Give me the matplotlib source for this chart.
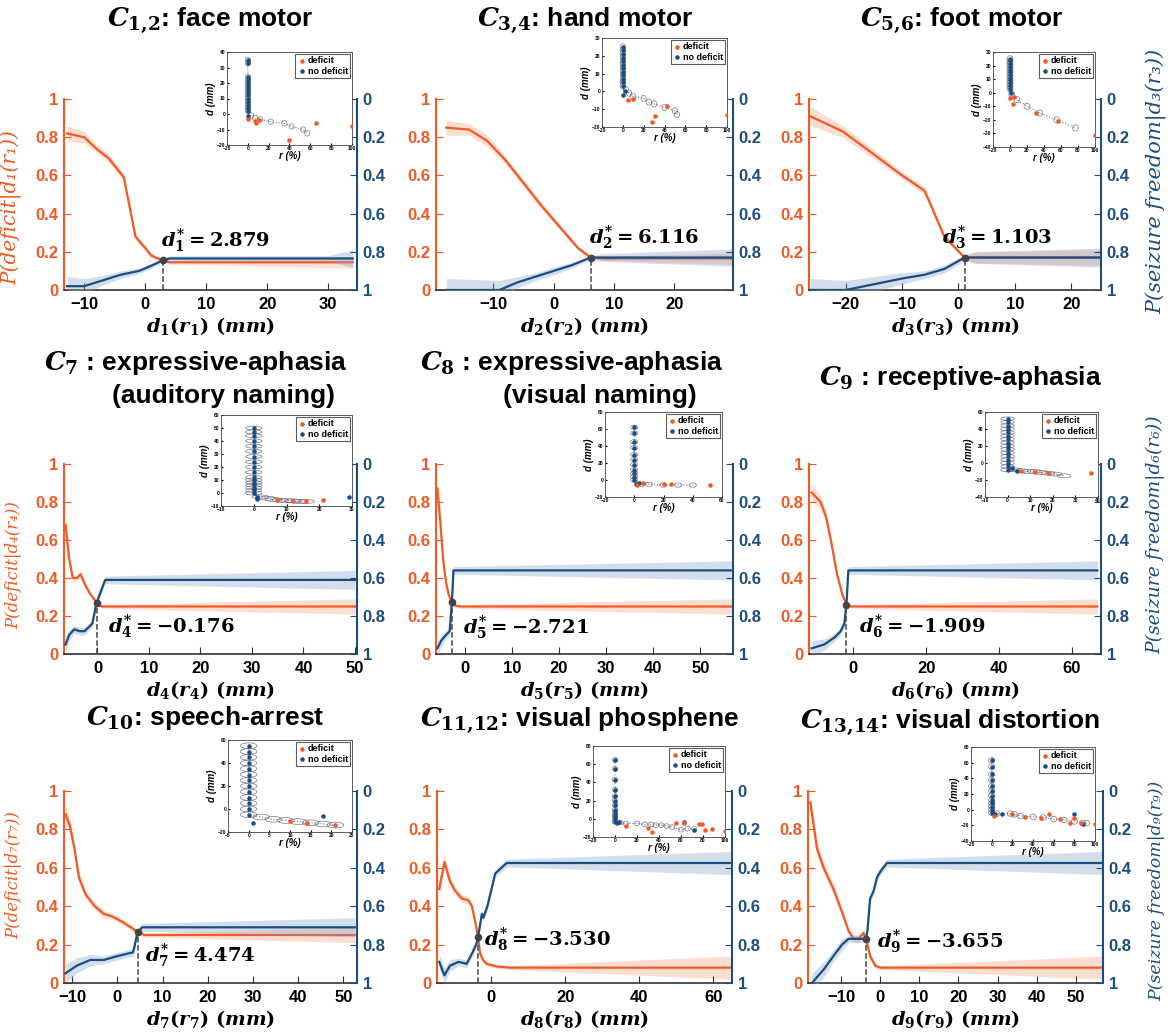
import matplotlib.pyplot as plt
import numpy as np
from matplotlib.patches import Ellipse

plt.rcParams['font.family'] = ['Liberation Sans', 'DejaVu Sans']
plt.rcParams['font.weight'] = 'bold'
plt.rcParams['mathtext.fontset'] = 'custom'
plt.rcParams['mathtext.it'] = 'DejaVu Serif:italic:bold'
plt.rcParams['mathtext.rm'] = 'DejaVu Serif:bold'
plt.rcParams['mathtext.bf'] = 'DejaVu Serif:bold'

ORANGE = '#F15A24'
BLUE = '#1B4D7E'
BAND_O = '#F7A07C'
BAND_B = '#7FA3C6'

# ---- main curves: P(deficit) (left axis) and P(seizure freedom) (right axis, inverted)
x1 = [-12.8, -10, -8, -6, -3.5, -1.6, 0, 1, 2.879, 4, 34]
o1 = [0.82, 0.80, 0.74, 0.69, 0.59, 0.28, 0.22, 0.18, 0.155, 0.145, 0.145]
oe1 = [0.04, 0.03, 0.02, 0.02, 0.02, 0.02, 0.015, 0.012, 0.01, 0.01, 0.03]
bx1 = [-12.8, -10, -7, -4, -1, 0.5, 2.879, 4, 30, 34]
b1 = [0.98, 0.98, 0.95, 0.92, 0.90, 0.88, 0.845, 0.835, 0.835, 0.835]
be1 = [0.05, 0.04, 0.025, 0.02, 0.015, 0.015, 0.01, 0.015, 0.015, 0.045]

x2 = [-17.8, -14, -11, -8, -5, -2, 1, 4, 6.116, 8, 29.7]
o2 = [0.85, 0.84, 0.78, 0.68, 0.56, 0.44, 0.33, 0.22, 0.17, 0.165, 0.165]
oe2 = [0.04, 0.03, 0.03, 0.02, 0.02, 0.02, 0.015, 0.012, 0.01, 0.01, 0.03]
bx2 = [-17.8, -9, -6, -3, 0, 3, 6.116, 8, 29.7]
b2 = [1.0, 1.0, 0.96, 0.93, 0.90, 0.87, 0.83, 0.83, 0.83]
be2 = [0.06, 0.05, 0.03, 0.02, 0.02, 0.015, 0.01, 0.02, 0.045]

x3 = [-26.3, -20.5, -15, -10, -6, -2.5, 1.103, 3, 25.3]
o3 = [0.91, 0.83, 0.71, 0.60, 0.52, 0.28, 0.17, 0.17, 0.17]
oe3 = [0.05, 0.03, 0.025, 0.02, 0.02, 0.015, 0.01, 0.03, 0.04]
bx3 = [-26.3, -20, -15, -10, -6, -2.5, 1.103, 3, 25.3]
b3 = [1.0, 1.0, 0.97, 0.94, 0.92, 0.89, 0.83, 0.83, 0.83]
be3 = [0.06, 0.05, 0.04, 0.03, 0.02, 0.02, 0.015, 0.03, 0.05]

x4 = [-6.2, -5.5, -4.8, -4, -3.3, -2.5, -1.5, -0.176, 0.8, 50]
o4 = [0.68, 0.50, 0.40, 0.40, 0.42, 0.37, 0.32, 0.27, 0.25, 0.25]
oe4 = [0.05, 0.03, 0.02, 0.015, 0.015, 0.015, 0.01, 0.01, 0.01, 0.04]
bx4 = [-6.2, -5.5, -4.5, -3.5, -2.5, -1.0, -0.176, 1.5, 50]
b4 = [0.95, 0.90, 0.87, 0.88, 0.88, 0.84, 0.73, 0.61, 0.61]
be4 = [0.04, 0.03, 0.02, 0.02, 0.02, 0.02, 0.02, 0.02, 0.05]

x5 = [-5.8, -5.2, -4.6, -4.0, -3.4, -2.721, -2.0, -1.0, 56.5]
o5 = [0.87, 0.70, 0.50, 0.38, 0.31, 0.275, 0.255, 0.25, 0.25]
oe5 = [0.05, 0.04, 0.03, 0.02, 0.015, 0.01, 0.01, 0.01, 0.04]
bx5 = [-5.8, -5.0, -4.0, -3.2, -2.721, -2.4, 56.5]
b5 = [0.97, 0.93, 0.90, 0.88, 0.725, 0.56, 0.56]
be5 = [0.04, 0.03, 0.02, 0.02, 0.02, 0.02, 0.05]

x6 = [-11.5, -9, -7.5, -6, -4.5, -3, -1.909, -0.5, 67]
o6 = [0.85, 0.80, 0.72, 0.58, 0.42, 0.31, 0.26, 0.25, 0.25]
oe6 = [0.05, 0.03, 0.03, 0.02, 0.02, 0.015, 0.01, 0.01, 0.04]
bx6 = [-11.5, -8, -5, -3.5, -2.5, -1.909, -1.4, 67]
b6 = [0.97, 0.95, 0.91, 0.88, 0.84, 0.74, 0.56, 0.56]
be6 = [0.04, 0.03, 0.02, 0.02, 0.02, 0.02, 0.02, 0.05]

x7 = [-11.5, -10.5, -9.5, -8.5, -7, -5, -3, -1, 1, 3, 4.474, 6, 52.5]
o7 = [0.88, 0.82, 0.70, 0.55, 0.46, 0.40, 0.36, 0.345, 0.32, 0.29, 0.265, 0.25, 0.25]
oe7 = [0.05, 0.04, 0.03, 0.03, 0.02, 0.02, 0.02, 0.015, 0.015, 0.015, 0.01, 0.01, 0.04]
bx7 = [-11.5, -9, -6, -3, 0, 3.5, 4.474, 5.5, 52.5]
b7 = [0.95, 0.91, 0.88, 0.88, 0.86, 0.84, 0.735, 0.71, 0.71]
be7 = [0.05, 0.04, 0.03, 0.02, 0.02, 0.02, 0.02, 0.02, 0.05]

x8 = [-14.0, -12.6, -11.1, -9.7, -7.9, -6.1, -5.2, -4.3, -3.53, -3.0, -2.2, -1.2, 1.5, 5.1, 64.5]
o8 = [0.49, 0.63, 0.53, 0.48, 0.44, 0.43, 0.40, 0.32, 0.24, 0.155, 0.12, 0.10, 0.086, 0.08, 0.08]
oe8 = [0.04, 0.04, 0.03, 0.02, 0.02, 0.02, 0.02, 0.02, 0.015, 0.015, 0.015, 0.01, 0.01, 0.01, 0.06]
bx8 = [-14.0, -12.6, -11.1, -8.8, -6.6, -5.0, -4.05, -3.53, -3.0, -2.5, -2.1, -1.0, 1.1, 4.2, 64.5]
b8 = [0.89, 0.96, 0.91, 0.89, 0.90, 0.84, 0.80, 0.76, 0.70, 0.64, 0.66, 0.60, 0.43, 0.375, 0.375]
be8 = [0.04, 0.04, 0.03, 0.02, 0.02, 0.02, 0.02, 0.02, 0.02, 0.02, 0.02, 0.02, 0.02, 0.02, 0.06]

x9 = [-17.9, -16.2, -14.5, -12.0, -9.8, -8.1, -6.8, -5.6, -4.3, -3.655, -2.6, -1.3, 0, 57]
o9 = [0.94, 0.70, 0.60, 0.49, 0.37, 0.27, 0.23, 0.23, 0.26, 0.23, 0.14, 0.09, 0.08, 0.08]
oe9 = [0.05, 0.04, 0.03, 0.03, 0.02, 0.02, 0.02, 0.02, 0.02, 0.02, 0.015, 0.015, 0.01, 0.06]
bx9 = [-17.5, -14.5, -12.0, -9.8, -8.1, -6.8, -4.3, -3.655, -3.3, -2.6, -1.7, -0.85, 0, 1.7, 57]
b9 = [1.0, 0.93, 0.86, 0.80, 0.77, 0.77, 0.77, 0.77, 0.73, 0.56, 0.52, 0.45, 0.42, 0.375, 0.375]
be9 = [0.05, 0.04, 0.03, 0.03, 0.02, 0.02, 0.02, 0.02, 0.02, 0.02, 0.02, 0.02, 0.02, 0.02, 0.06]

dstar = [2.879, 6.116, 1.103, -0.176, -2.721, -1.909, 4.474, -3.530, -3.655]
dstar_txt = ['2.879', '6.116', '1.103', '-0.176', '-2.721', '-1.909', '4.474', '-3.530', '-3.655']
xticks = [[-10, 0, 10, 20, 30], [-10, 0, 10, 20], [-20, -10, 0, 10, 20],
          [0, 10, 20, 30, 40, 50], [0, 10, 20, 30, 40, 50], [0, 20, 40, 60],
          [-10, 0, 10, 20, 30, 40, 50], [0, 20, 40, 60], [-10, 0, 10, 20, 30, 40, 50]]

# ---- inset scatter data (r in %, d in mm)
col_d1 = [35, 33, 24, 22, 20, 18, 16, 14, 12, 10, 8, 6, 4, 2]
tail_r1 = [3, 7, 12, 22, 35, 42, 53, 57]
tail_d1 = [-1, -2.5, -3.5, -5, -6, -8, -10, -12.5]
def_r1 = [0, 7, 8, 11, 40, 65, 100]
def_d1 = [-3, -4.5, -6, -4, -17, -6, -8]
nd_r1 = [0]
nd_d1 = [-1.5]

col_d2 = [25, 23, 21, 19, 17, 15, 13, 11, 9, 7, 5, 3]
tail_r2 = [3, 6, 10, 20, 25, 30, 40, 50, 52]
tail_d2 = [1, -1, -3, -4, -6, -7, -9, -11, -13]
def_r2 = [5, 10, 28, 31, 42, 100]
def_d2 = [-5, -4, -17, -14, -8, -13]
nd_r2 = [0, 2]
nd_d2 = [-2, 0]

col_d3 = [25, 23, 21, 19, 17, 15, 13, 11, 9, 7, 5, 3]
tail_r3 = [2, 8, 20, 35, 55, 77]
tail_d3 = [-1, -5, -10, -15, -20, -26]
def_r3 = [0, 4, 5, 30, 56, 100]
def_d3 = [-4, -8.5, -3, -15, -21, -31]
nd_r3 = [1]
nd_d3 = [0]

col_d4 = [50, 47, 44, 40, 36, 32, 28, 24, 20, 16, 12, 10, 8, 6, 4, 2, 0]
tail_r4 = [2, 4, 6, 8, 10, 12, 14, 16]
tail_d4 = [-3, -4, -5, -5.5, -6, -6, -6.5, -6.5]
def_r4 = [7, 12, 16, 21]
def_d4 = [-5.5, -6.5, -6.5, -5.5]
nd_r4 = [1, 1, 29]
nd_d4 = [-3, -5, -3]

col_d5 = [62, 55, 45, 38, 30, 24, 18, 12, 8, 4, 0]
tail_r5 = [5, 10, 20, 30, 40]
tail_d5 = [-5, -5, -6, -6, -6]
def_r5 = [2, 6, 20, 25, 52]
def_d5 = [-6, -4, -5, -5, -6]
nd_r5 = [1, 3]
nd_d5 = [-5, -4]

col_d6 = [52, 48, 44, 40, 36, 32, 28, 24, 20, 16, 12, 8, 4, 0, -4, -8]
tail_r6 = [3, 6, 9, 12, 15, 18, 21, 25]
tail_d6 = [-8, -9, -10, -10, -11, -12, -13, -15]
def_r6 = [6, 12, 18, 37]
def_d6 = [-9, -11, -12, -12]
nd_r6 = [2, 4]
nd_d6 = [-6, -9]

col_d7 = [55, 50, 45, 40, 35, 30, 25, 20, 15, 10, 5, 0, -5]
tail_r7 = [3, 6, 9, 12, 15, 18, 21]
tail_d7 = [-7, -9, -10, -11, -12, -13, -14]
def_r7 = [10, 14, 21]
def_d7 = [-10, -12, -14]
nd_r7 = [1, 18]
nd_d7 = [-12, -6]

col_d8 = [65, 55, 43, 32, 25, 20, 15, 10, 6, 3, 0, -3]
tail_r8 = [5, 10, 20, 27, 33, 37, 42, 47, 52, 60, 66, 72]
tail_d8 = [-4, -5, -5, -6, -6, -7, -7, -8, -9, -12, -11, -11]
def_r8 = [10, 30, 34, 55, 63, 76, 79, 82, 88, 100]
def_d8 = [-8, -10, -15, -5, -5, -6, -6, -12, -11, -13]
nd_r8 = [2, 4, 63, 72]
nd_d8 = [-5, -4, -4, -12]

col_d9 = [63, 55, 45, 38, 30, 24, 18, 12, 8, 4, 0, -4]
tail_r9 = [5, 18, 22, 28, 40, 50, 60, 70, 80, 88, 92]
tail_d9 = [-5, -5, -6, -8, -9, -10, -12, -13, -15, -17, -17]
def_r9 = [2, 20, 32, 48, 55, 66, 76, 80, 86, 100]
def_d9 = [-8, -5, -9, -10, -5, -12, -17, -10, -17, -18]
nd_r9 = [3, 10, 80, 88]
nd_d9 = [-5, -5, -5, -18]

# ---- layout (pixels: left, top, right, bottom)
W, H = 1171, 1034
main_boxes = [(64, 99, 357, 290), (436, 99, 733, 290), (809, 99, 1101, 290),
              (64, 464, 357, 654), (436, 464, 733, 654), (809, 464, 1101, 654),
              (64, 791, 357, 983), (437, 791, 732, 983), (808, 791, 1103, 983)]
inset_boxes = [(227, 52, 352, 145), (602, 38, 727, 127), (993, 52, 1095, 147),
               (221, 415, 352, 506), (605, 412, 722, 497), (985, 412, 1098, 497),
               (228, 740, 352, 832), (593, 746, 725, 837), (971, 747, 1095, 841)]
xlims = [(-13.3, 34.7), (-19.5, 29.7), (-26.5, 25.3), (-6.5, 50.4), (-6.1, 56.9),
         (-12.2, 68), (-11.8, 53), (-14.6, 65), (-18.5, 57)]
inset_xlim = [(-20, 100), (-20, 100), (-20, 100), (-10, 30), (-20, 60), (-10, 40),
              (-5, 25), (-20, 100), (-20, 100)]
inset_xstep = [20, 20, 20, 10, 20, 10, 5, 20, 20]
inset_ylim = [(-20, 40), (-20, 30), (-40, 30), (-10, 60), (-20, 80), (-40, 60),
              (-20, 60), (-20, 80), (-40, 80)]
inset_ystep = [10, 10, 10, 10, 20, 20, 20, 20, 20]
ell_size = [(5, 3.5), (5, 3.5), (7, 4.5), (5, 3), (5, 5), (6, 4.5), (4, 5), (5, 5), (6, 7)]
ann_off = [(-1.5, 14), (-1, 14), (-16, 14), (8, -17), (8, -19), (9, -16), (5, -17), (4, -2), (8, -2)]
left_lab_y = [0.43, None, None, 0.47, None, None, 0.56, None, None]
right_lab_y = [None, None, 0.57, None, None, 0.63, None, None, 0.48]
ylab_size = [14.5, 12, 15, 12, 12, 13.5, 12, 12, 12.5]

titles = [(r"$C_{1{,}2}$: face motor", 210, 20),
          (r"$C_{3{,}4}$: hand motor", 585, 20),
          (r"$C_{5{,}6}$: foot motor", 962, 20),
          (r"$C_7$ : expressive-aphasia", 196, 363),
          ("(auditory naming)", 223, 396),
          (r"$C_8$ : expressive-aphasia", 572, 363),
          ("(visual naming)", 600, 396),
          (r"$C_9$ : receptive-aphasia", 960, 378),
          (r"$C_{10}$: speech-arrest", 205, 718),
          (r"$C_{11{,}12}$: visual phosphene", 580, 720),
          (r"$C_{13{,}14}$: visual distortion", 950, 722)]

curves = [(x1, o1, oe1, bx1, b1, be1), (x2, o2, oe2, bx2, b2, be2), (x3, o3, oe3, bx3, b3, be3),
          (x4, o4, oe4, bx4, b4, be4), (x5, o5, oe5, bx5, b5, be5), (x6, o6, oe6, bx6, b6, be6),
          (x7, o7, oe7, bx7, b7, be7), (x8, o8, oe8, bx8, b8, be8), (x9, o9, oe9, bx9, b9, be9)]
insets = [(col_d1, tail_r1, tail_d1, def_r1, def_d1, nd_r1, nd_d1),
          (col_d2, tail_r2, tail_d2, def_r2, def_d2, nd_r2, nd_d2),
          (col_d3, tail_r3, tail_d3, def_r3, def_d3, nd_r3, nd_d3),
          (col_d4, tail_r4, tail_d4, def_r4, def_d4, nd_r4, nd_d4),
          (col_d5, tail_r5, tail_d5, def_r5, def_d5, nd_r5, nd_d5),
          (col_d6, tail_r6, tail_d6, def_r6, def_d6, nd_r6, nd_d6),
          (col_d7, tail_r7, tail_d7, def_r7, def_d7, nd_r7, nd_d7),
          (col_d8, tail_r8, tail_d8, def_r8, def_d8, nd_r8, nd_d8),
          (col_d9, tail_r9, tail_d9, def_r9, def_d9, nd_r9, nd_d9)]

SUB = str.maketrans('0123456789', '₀₁₂₃₄₅₆₇₈₉')


def rect(l, t, r, b):
    return [l / W, 1 - b / H, (r - l) / W, (b - t) / H]


fig = plt.figure(figsize=(W / 100, H / 100), dpi=100)
ticks = [0, 0.2, 0.4, 0.6, 0.8, 1]
tick_lbl = ['0', '0.2', '0.4', '0.6', '0.8', '1']

for i in range(9):
    x, o, oe, bx, b, be = [np.array(v, dtype=float) for v in curves[i]]
    ax = fig.add_axes(rect(*main_boxes[i]))
    ax2 = ax.twinx()

    ax.fill_between(x, o - oe, o + oe, color=BAND_O, alpha=0.35, lw=0)
    ax.plot(x, o, color=ORANGE, lw=1.6)
    ax2.fill_between(bx, b - be, b + be, color=BAND_B, alpha=0.35, lw=0)
    ax2.plot(bx, b, color=BLUE, lw=1.6)

    cross = np.interp(dstar[i], x, o)
    ax2.plot([dstar[i], dstar[i]], [1, 1 - cross], ls='--', color='#444444', lw=1.1)
    ax2.plot(dstar[i], 1 - cross, 'o', color='#444444', ms=4.5, zorder=6)
    ax2.annotate(r"$d_{%d}^{*} = %s$" % (i + 1, dstar_txt[i]), xy=(dstar[i], 1 - cross),
                 xytext=ann_off[i], textcoords='offset points', ha='left', va='center',
                 fontsize=14, color='black')

    ax.set_xlim(*xlims[i])
    ax.set_xticks(xticks[i])
    ax.set_ylim(0, 1)
    ax2.set_ylim(1, 0)
    ax.set_yticks(ticks)
    ax.set_yticklabels(tick_lbl)
    ax2.set_yticks(ticks)
    ax2.set_yticklabels(tick_lbl)

    for sp in ['top', 'right']:
        ax.spines[sp].set_visible(False)
    for sp in ['top', 'left', 'bottom']:
        ax2.spines[sp].set_visible(False)
    ax.spines['left'].set_color(ORANGE)
    ax.spines['left'].set_linewidth(1.5)
    ax.spines['bottom'].set_color('#333333')
    ax.spines['bottom'].set_linewidth(1.2)
    ax2.spines['right'].set_color(BLUE)
    ax2.spines['right'].set_linewidth(1.5)

    ax.tick_params(axis='y', direction='in', length=5, color=ORANGE, labelcolor=ORANGE,
                   labelsize=12, pad=4)
    ax.tick_params(axis='x', direction='in', length=5, color='#333333', labelsize=12, pad=5)
    ax2.tick_params(axis='y', direction='in', length=5, color=BLUE, labelcolor=BLUE,
                    labelsize=12, pad=4)
    for lb in ax.get_yticklabels() + ax2.get_yticklabels() + ax.get_xticklabels():
        lb.set_fontweight('bold')

    ax.set_xlabel(r"$d_{%d}(r_{%d})\ (mm)$" % (i + 1, i + 1), fontsize=14, labelpad=2)
    k = str(i + 1).translate(SUB)
    if left_lab_y[i] is not None:
        ax.set_ylabel("P(deficit|d%s(r%s))" % (k, k), color=ORANGE, fontsize=ylab_size[i],
                      fontweight='normal', fontstyle='italic', family=['DejaVu Serif'])
        ax.yaxis.set_label_coords(-0.143, left_lab_y[i])
    if right_lab_y[i] is not None:
        ax2.set_ylabel("P(seizure freedom|d%s(r%s))" % (k, k), color=BLUE,
                       fontsize=ylab_size[i], fontweight='normal', fontstyle='italic',
                       family=['DejaVu Serif'])
        ax2.yaxis.set_label_coords(1.155, right_lab_y[i])

    # inset scatter
    col_d, tail_r, tail_d, def_r, def_d, nd_r, nd_d = insets[i]
    ins = fig.add_axes(rect(*inset_boxes[i]))
    ins.set_zorder(10)
    ew, eh = ell_size[i]
    path_r = [0] * len(col_d) + list(tail_r)
    path_d = list(col_d) + list(tail_d)
    ins.plot(path_r, path_d, ls=':', color='#777788', lw=0.8)
    for pr, pd_ in zip(path_r, path_d):
        ins.add_patch(Ellipse((pr, pd_), ew, eh, fill=False, ec='#555570', lw=0.5, alpha=0.8))
    ins.scatter([0] * len(col_d) + list(nd_r), list(col_d) + list(nd_d), s=5,
                color=BLUE, label='no deficit', zorder=4)
    ins.scatter(def_r, def_d, s=5, color=ORANGE, label='deficit', zorder=4)
    ins.set_xlim(*inset_xlim[i])
    ins.set_ylim(*inset_ylim[i])
    ins.set_xticks(np.arange(inset_xlim[i][0], inset_xlim[i][1] + 1, inset_xstep[i]))
    ins.set_yticks(np.arange(inset_ylim[i][0], inset_ylim[i][1] + 1, inset_ystep[i]))
    ins.tick_params(labelsize=3.5, length=1.5, direction='in', pad=1)
    for sp in ins.spines.values():
        sp.set_linewidth(0.6)
        sp.set_color('#444444')
    ins.set_xlabel(r"r (%)", fontsize=7, labelpad=0, fontweight='bold', fontstyle='italic')
    ins.set_ylabel(r"d (mm)", fontsize=7, labelpad=1, fontweight='bold', fontstyle='italic')
    h, l = ins.get_legend_handles_labels()
    leg = ins.legend(h[::-1], l[::-1], loc='upper right', fontsize=6.5, fancybox=False,
                     handletextpad=0.1, borderpad=0.25, labelspacing=0.2, markerscale=1,
                     handlelength=1.0, borderaxespad=0.2)
    leg.get_frame().set_edgecolor('#333333')
    leg.get_frame().set_linewidth(0.8)

for txt, cx, cy in titles:
    fig.text(cx / W, 1 - cy / H, txt, ha='center', va='center', fontsize=19,
             fontweight='bold', color='black')

fig.savefig('out.png', dpi=100)
